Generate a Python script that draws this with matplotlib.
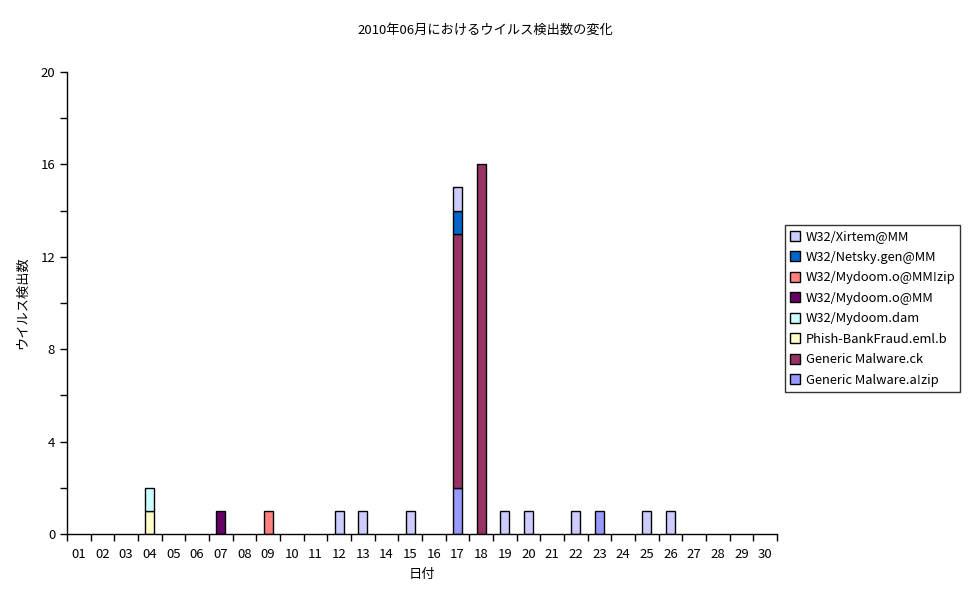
import numpy as np
import matplotlib
matplotlib.use('Agg')
import matplotlib.pyplot as plt
from matplotlib.ticker import MultipleLocator

plt.rcParams['font.family'] = ['Noto Sans CJK JP', 'DejaVu Sans']

# Days of June 2010
days = ["%02d" % d for d in range(1, 31)]

# Series in stacking order (bottom to top)
series_names = ["Generic Malware.a!zip", "Generic Malware.ck", "Phish-BankFraud.eml.b",
                "W32/Mydoom.dam", "W32/Mydoom.o@MM", "W32/Mydoom.o@MM!zip",
                "W32/Netsky.gen@MM", "W32/Xirtem@MM"]
series_colors = ["#9999FF", "#993366", "#FFFFCC", "#CCFFFF", "#660066", "#FF8080",
                 "#0066CC", "#CCCCFF"]

# counts per day (index 0 = day 01)
generic_azip = [0,0,0,0,0,0,0,0,0,0,0,0,0,0,0,0,2,0,0,0,0,0,1,0,0,0,0,0,0,0]
generic_ck   = [0,0,0,0,0,0,0,0,0,0,0,0,0,0,0,0,11,16,0,0,0,0,0,0,0,0,0,0,0,0]
phish        = [0,0,0,1,0,0,0,0,0,0,0,0,0,0,0,0,0,0,0,0,0,0,0,0,0,0,0,0,0,0]
mydoom_dam   = [0,0,0,1,0,0,0,0,0,0,0,0,0,0,0,0,0,0,0,0,0,0,0,0,0,0,0,0,0,0]
mydoom_o     = [0,0,0,0,0,0,1,0,0,0,0,0,0,0,0,0,0,0,0,0,0,0,0,0,0,0,0,0,0,0]
mydoom_o_zip = [0,0,0,0,0,0,0,0,1,0,0,0,0,0,0,0,0,0,0,0,0,0,0,0,0,0,0,0,0,0]
netsky       = [0,0,0,0,0,0,0,0,0,0,0,0,0,0,0,0,1,0,0,0,0,0,0,0,0,0,0,0,0,0]
xirtem       = [0,0,0,0,0,0,0,0,0,0,0,1,1,0,1,0,1,0,1,1,0,1,0,0,1,1,0,0,0,0]

series_values = [generic_azip, generic_ck, phish, mydoom_dam, mydoom_o,
                 mydoom_o_zip, netsky, xirtem]

fig = plt.figure(figsize=(9.7, 6.04), dpi=100)
ax = fig.add_axes([67/970, 1 - 534/604, 710/970, 462/604])

x = np.arange(len(days))
bottom = np.zeros(len(days))
handles = []
for name, col, vals in zip(series_names, series_colors, series_values):
    vals = np.array(vals, dtype=float)
    mask = vals > 0
    h = ax.bar(x[mask], vals[mask], bottom=bottom[mask], width=0.38, color=col,
               edgecolor='black', linewidth=1.0, label=name)
    handles.append(h)
    bottom += vals

ax.set_xlim(-0.5, len(days) - 0.5)
ax.set_ylim(0, 20)
ax.yaxis.set_major_locator(MultipleLocator(4))
ax.yaxis.set_minor_locator(MultipleLocator(2))
ax.set_xticks(x)
ax.set_xticklabels(days, fontsize=9.5)
ax.set_xticks(np.arange(-0.5, len(days)), minor=True)
ax.tick_params(axis='x', which='major', length=0, pad=10)
ax.tick_params(axis='x', which='minor', length=5, direction='out', width=1)
ax.tick_params(axis='y', which='both', length=5, direction='out', width=1, labelsize=9.5)
ax.spines['top'].set_visible(False)
ax.spines['right'].set_visible(False)
ax.spines['left'].set_linewidth(1)
ax.spines['bottom'].set_linewidth(1)

ax.set_xlabel('日付', fontsize=9.5, labelpad=5)
ax.set_ylabel('ウイルス検出数', fontsize=9.5, labelpad=8)
fig.text(485/970, 1 - 30/604, '2010年06月におけるウイルス検出数の変化', ha='center', va='center', fontsize=9.5)

leg = fig.legend(handles[::-1], series_names[::-1], loc='upper left',
                 bbox_to_anchor=(785/970, 1 - 225/604), borderaxespad=0, fontsize=9.3,
                 frameon=True, fancybox=False, edgecolor='black', handlelength=0.8,
                 handleheight=0.8, handletextpad=0.4, labelspacing=0.58, borderpad=0.4)
leg.get_frame().set_linewidth(1)

fig.savefig('out.png', dpi=100)
